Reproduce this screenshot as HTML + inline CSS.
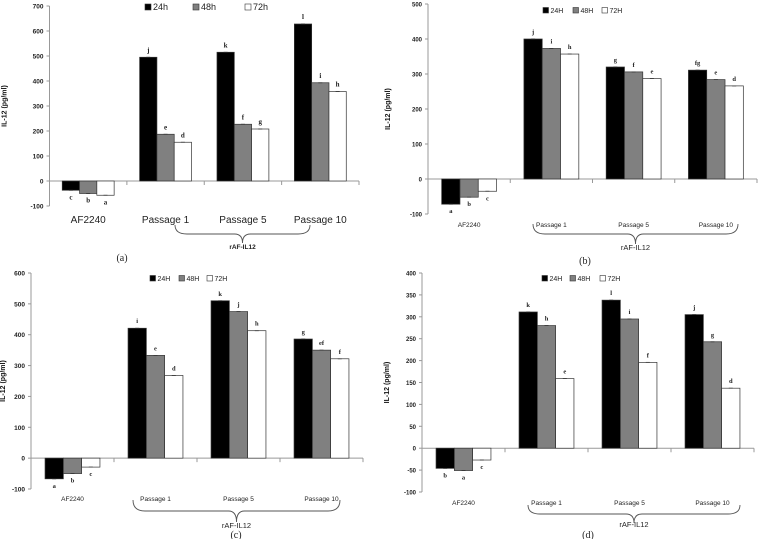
<!DOCTYPE html>
<html><head><meta charset="utf-8">
<style>
html,body{margin:0;padding:0;background:#fff;}
svg{display:block;font-family:"Liberation Sans",sans-serif;}
</style></head>
<body>
<svg id="fig" width="758" height="539" viewBox="0 0 758 539" xmlns="http://www.w3.org/2000/svg"></svg>
<script>
const categories = ["AF2240","Passage 1","Passage 5","Passage 10"];
// panel a
const aSeries24 = [-37, 495, 515, 628];
const aSeries48 = [-50, 187, 227, 393];
const aSeries72 = [-57, 155, 208, 358];
const aLetters = [["c","b","a"],["j","e","d"],["k","f","g"],["l","i","h"]];
const aTicks = [-100,0,100,200,300,400,500,600,700];
const aLegend = ["24h","48h","72h"];
// panel b
const bSeries24 = [-72, 400, 320, 311];
const bSeries48 = [-52, 373, 306, 284];
const bSeries72 = [-35, 357, 287, 266];
const bLetters = [["a","b","c"],["j","i","h"],["g","f","e"],["fg","e","d"]];
const bTicks = [-100,0,100,200,300,400,500];
const bLegend = ["24H","48H","72H"];
// panel c
const cSeries24 = [-67, 421, 510, 386];
const cSeries48 = [-50, 333, 475, 350];
const cSeries72 = [-29, 268, 413, 322];
const cLetters = [["a","b","c"],["i","e","d"],["k","j","h"],["g","ef","f"]];
const cTicks = [-100,0,100,200,300,400,500,600];
const cLegend = ["24H","48H","72H"];
// panel d
const dSeries24 = [-46, 311, 338, 305];
const dSeries48 = [-51, 280, 295, 243];
const dSeries72 = [-27, 159, 196, 137];
const dLetters = [["b","a","c"],["k","h","e"],["l","i","f"],["j","g","d"]];
const dTicks = [-100,-50,0,50,100,150,200,250,300,350,400];
const dLegend = ["24H","48H","72H"];

const NS = "http://www.w3.org/2000/svg";
const svg = document.getElementById("fig");
function mk(tag, attrs, parent, text){
  const e = document.createElementNS(NS, tag);
  for (const k in attrs) e.setAttribute(k, attrs[k]);
  if (text !== undefined) e.textContent = text;
  (parent||svg).appendChild(e);
  return e;
}
const fills = ["#000","#808080","#fff"];

function panel(cfg){
  const g = mk("g", {});
  
  
  const vmin = cfg.ticks[0], vmax = cfg.ticks[cfg.ticks.length-1];
  const y = v => cfg.yTop + (vmax - v) / (vmax - vmin) * (cfg.yBot - cfg.yTop);
  const step = (cfg.x1 - cfg.x0) / categories.length;
  const xc = i => cfg.x0 + step * (i + 0.5);
  // y axis
  const ya = mk("line", {x1:cfg.x0, x2:cfg.x0, y1:cfg.yTop, y2:cfg.yBot, stroke:"#999", "stroke-width":1}, g);
  
  
  cfg.ticks.forEach(t => {
    mk("line", {x1:cfg.x0-3, x2:cfg.x0, y1:y(t), y2:y(t), stroke:"#999"}, g);
    const tl = mk("text", {x:cfg.x0-6, y:y(t)+2.5, "font-size":cfg.tfs, "font-weight":"bold", "text-anchor":"end", fill:"#222"}, g, String(t));
    
    
  });
  const yt = mk("text", {x:0, y:0, "font-size":7, "font-weight":"bold", "text-anchor":"middle", fill:"#111",
    transform:`translate(${cfg.x0-cfg.titleOff},${(cfg.yTop+cfg.yBot)/2}) rotate(-90)`}, g, "IL-12 (pg/ml)");
  
  
  // x axis at zero
  const xa = mk("line", {x1:cfg.x0, x2:cfg.x1, y1:y(0), y2:y(0), stroke:"#999"}, g);
  
  
  for (let i = 1; i <= categories.length; i++) {
    mk("line", {x1:cfg.x0+step*i, x2:cfg.x0+step*i, y1:y(0), y2:y(0)+4, stroke:"#999"}, g);
  }
  const series = [cfg.s24, cfg.s48, cfg.s72];
  const bw = cfg.bw;
  categories.forEach((c, i) => {
    series.forEach((s, k) => {
      const v = s[i];
      const bx = xc(i) + (k - 1.5) * bw;
      const top = Math.min(y(v), y(0)), h = Math.abs(y(v) - y(0));
      const r = mk("rect", {x:bx, y:top, width:bw, height:h, fill:fills[k], stroke:"#333", "stroke-width":0.7}, g);
      
      
      mk("line", {x1:bx+bw/2-2, x2:bx+bw/2+2, y1:y(v), y2:y(v), stroke:"#333", "stroke-width":0.8}, g);
      const ly = v >= 0 ? y(v) - 5 : y(v) + 9;
      const lt = mk("text", {x:bx+bw/2, y:ly, "font-size":cfg.lfs, "font-weight":"bold", "text-anchor":"middle", fill:"#222", "font-family":"Liberation Serif, serif"}, g, cfg.letters[i][k]);
      
      
    });
    const cl = mk("text", {x:xc(i), y:cfg.catY, "font-size":cfg.cfs, "text-anchor":"middle", fill:"#222"}, g, c);
    
    
  });
  // brace
  const bx0 = cfg.brace[0], bx1 = cfg.brace[1], by = cfg.brace[2], bh = cfg.brace[3];
  const mid = (bx0 + bx1) / 2;
  const br = mk("path", {d:`M${bx0},${by} Q${bx0},${by+bh/2} ${bx0+12},${by+bh/2} L${mid-8},${by+bh/2} Q${mid},${by+bh/2} ${mid},${by+bh} Q${mid},${by+bh/2} ${mid+8},${by+bh/2} L${bx1-12},${by+bh/2} Q${bx1},${by+bh/2} ${bx1},${by}`,
    fill:"none", stroke:"#555", "stroke-width":0.9}, g);
  
  
  const gl = mk("text", {x:mid, y:cfg.grpY, "font-size":cfg.gfs, "text-anchor":"middle", fill:"#222", "font-weight":cfg.id==="a"?"bold":"normal"}, g, "rAF-IL12");
  
  
  const pl = mk("text", {x:cfg.capX, y:cfg.capY, "font-size":10, "text-anchor":"middle", fill:"#222", "font-family":"Liberation Serif, serif"}, g, "(" + cfg.id + ")");
  
  
  // legend
  cfg.legX.forEach((lx, k) => {
    const sq = mk("rect", {x:lx, y:cfg.legY-cfg.sq, width:cfg.sq, height:cfg.sq, fill:fills[k], stroke:"#333", "stroke-width":0.6}, g);
    
    
    const lt = mk("text", {x:lx+cfg.sq+2, y:cfg.legY, "font-size":cfg.lgfs, fill:"#222"}, g, cfg.legend[k]);
    
    
  });
}

panel({id:"a", x0:49.5, x1:359, yTop:6, yBot:206, ticks:aTicks, s24:aSeries24, s48:aSeries48, s72:aSeries72, letters:aLetters, legend:aLegend,
  bw:17.3, tfs:6.5, lfs:7, cfs:10, gfs:6.5, titleOff:43, catY:223, brace:[175,310,225,18], grpY:249, capX:122, capY:261,
  legX:[145,193,245], legY:10, sq:6, lgfs:9});
panel({id:"b", x0:428, x1:757, yTop:4, yBot:214, ticks:bTicks, s24:bSeries24, s48:bSeries48, s72:bSeries72, letters:bLetters, legend:bLegend,
  bw:18.3, tfs:6, lfs:6.5, cfs:6.5, gfs:7.5, titleOff:38, catY:227, brace:[533,738,224,20], grpY:250, capX:585, capY:264,
  legX:[543,573,602], legY:13, sq:5.5, lgfs:7});
panel({id:"c", x0:31, x1:363, yTop:273, yBot:489, ticks:cTicks, s24:cSeries24, s48:cSeries48, s72:cSeries72, letters:cLetters, legend:cLegend,
  bw:18.3, tfs:6.5, lfs:6.5, cfs:6.5, gfs:7.5, titleOff:26, catY:501, brace:[133,340,500,22], grpY:528, capX:236, capY:538,
  legX:[150,179,207], legY:281, sq:5.5, lgfs:7});
panel({id:"d", x0:422, x1:754, yTop:273, yBot:492, ticks:dTicks, s24:dSeries24, s48:dSeries48, s72:dSeries72, letters:dLetters, legend:dLegend,
  bw:18.3, tfs:6, lfs:6.5, cfs:6.5, gfs:7.5, titleOff:33, catY:505, brace:[528,740,505,18], grpY:527, capX:588, capY:538,
  legX:[542,570,600], legY:281, sq:5.5, lgfs:7});
</script>
</body></html>
